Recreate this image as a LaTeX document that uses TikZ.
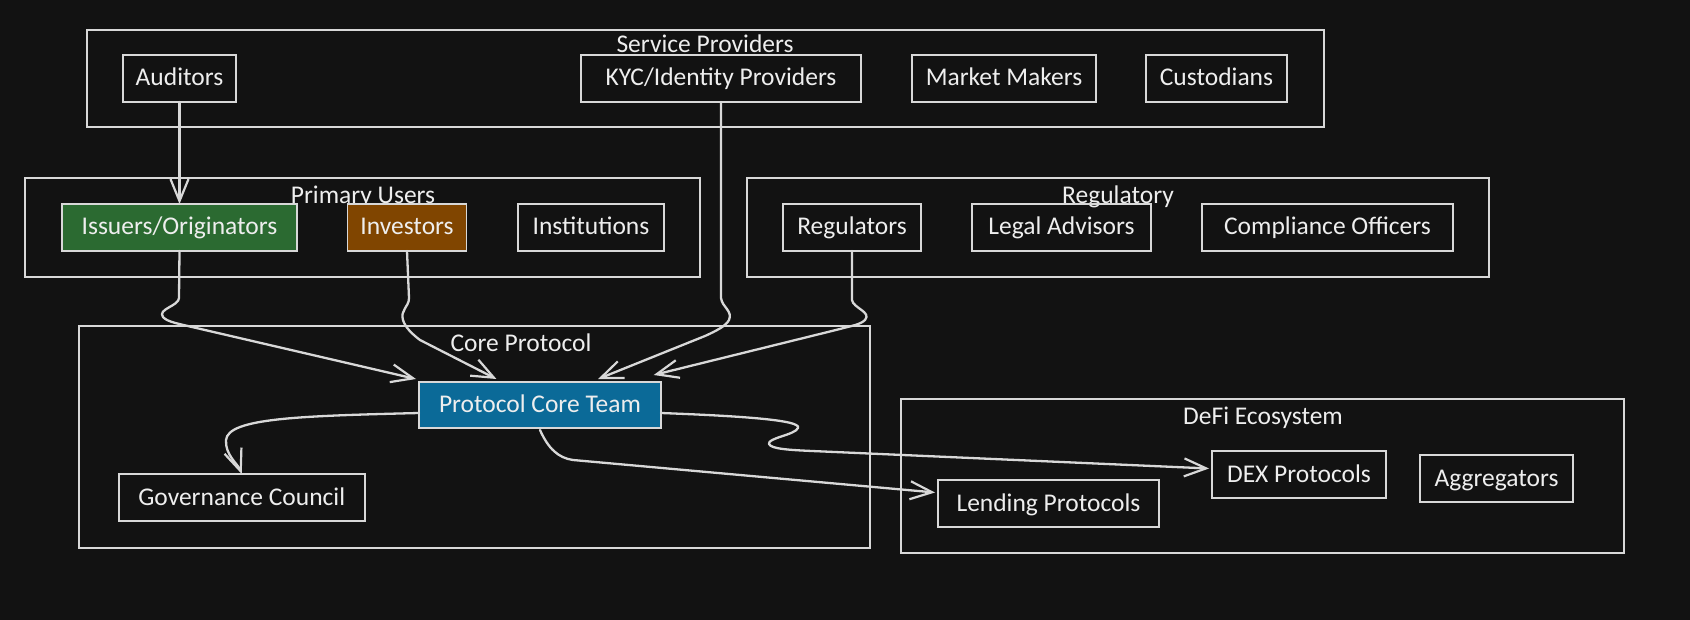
\documentclass[tikz,border=0pt]{standalone}
\usepackage{fontspec}
\setmainfont{Carlito}
\usetikzlibrary{arrows.meta,calc}
\definecolor{bg}{HTML}{121212}
\definecolor{ln}{HTML}{D8D8D8}
\definecolor{tx}{HTML}{EEEEEE}
\definecolor{grn}{HTML}{2B6A31}
\definecolor{brn}{HTML}{804500}
\definecolor{blu}{HTML}{0B6A98}
\begin{document}
\begin{tikzpicture}[x=1pt,y=-1pt,
  cluster/.style={draw=ln, line width=1.6pt, inner sep=0pt, outer sep=0pt},
  ctitle/.style={text=tx, font=\fontsize{25.5}{28}\selectfont, anchor=base, inner sep=0pt},
  box/.style={draw=ln, line width=1.6pt, text=tx, font=\fontsize{25.5}{28}\selectfont,
    inner sep=0pt, outer sep=0pt, minimum height=47pt, text height=20pt, text depth=5pt},
  conn/.style={draw=ln, line width=2.3pt, line cap=round, line join=round,
    -{Straight Barb[length=22pt,width=18pt,line width=2.2pt]}}]
\useasboundingbox (0,0) rectangle (1690,620);
\fill[bg] (0,0) rectangle (1690,620);

% clusters
\draw[cluster] (87,30) rectangle (1324,127);
\node[ctitle] (tsp) at (705,53) {Service Providers};
\draw[cluster] (25,178) rectangle (700,277);
\node[ctitle] (tpu) at (363,204) {Primary Users};
\draw[cluster] (747,178) rectangle (1489,277);
\node[ctitle] (treg) at (1118,204) {Regulatory};
\draw[cluster] (79,326) rectangle (870,548);
\node[ctitle] (tcp) at (521,352) {Core Protocol};
\draw[cluster] (901,399) rectangle (1624,553);
\node[ctitle] (tdf) at (1263,424) {DeFi Ecosystem};

% nodes
\node[box, minimum width=113pt] (aud) at (179.5,78.5) {Auditors};
\node[box, minimum width=280pt] (kyc) at (721,78.5) {KYC/Identity Providers};
\node[box, minimum width=184pt] (mm) at (1004,78.5) {Market Makers};
\node[box, minimum width=141pt] (cus) at (1216.5,78.5) {Custodians};

\node[box, fill=grn, minimum width=235pt] (iss) at (179.5,227.5) {Issuers/Originators};
\node[box, fill=brn, minimum width=119pt] (inv) at (407,227.5) {Investors};
\node[box, minimum width=146pt] (ins) at (591,227.5) {Institutions};

\node[box, minimum width=138pt] (reg) at (852,227.5) {Regulators};
\node[box, minimum width=179pt] (leg) at (1061.5,227.5) {Legal Advisors};
\node[box, minimum width=251pt] (com) at (1327.5,227.5) {Compliance Officers};

\node[box, fill=blu, minimum width=242pt, minimum height=46pt] (pct) at (540,405) {Protocol Core Team};
\node[box, minimum width=246pt] (gov) at (241.75,497.5) {Governance Council};

\node[box, minimum width=221pt] (lend) at (1048.5,503.5) {Lending Protocols};
\node[box, minimum width=174pt] (dex) at (1299,474.5) {DEX Protocols};
\node[box, minimum width=153pt] (agg) at (1496.5,478.5) {Aggregators};

% connectors
\draw[conn] (aud.south) -- (iss.north);

\draw[conn] (iss.south) -- (179,298)
  .. controls (179,306) and (157,309) .. (163,317)
  .. controls (167,322) and (180,324) .. (192,327)
  -- ($(pct.north west)+(-3,-3)$);

\draw[conn] (inv.south) -- (409,298)
  .. controls (409,307) and (400,310) .. (403,320)
  .. controls (405,327) and (412,334) .. (420,340)
  -- ($(pct.north west)!0.32!(pct.north east)+(0,-3)$);

\draw[conn] (kyc.south) -- (721,298)
  .. controls (722,307) and (733,311) .. (729,320)
  .. controls (726,326) and (716,331) .. (705,336)
  -- ($(pct.north west)!0.74!(pct.north east)+(0,-3)$);

\draw[conn] (reg.south) -- (852,300)
  .. controls (853,308) and (872,312) .. (865,320)
  .. controls (860,325) and (850,326) .. (840,329)
  -- ($(pct.north west)!0.97!(pct.north east)+(0,-7)$);

\draw[conn] ($(pct.west)+(0,8)$)
  .. controls (300,416) and (228,418) .. (226,440)
  .. controls (225,455) and (238,464) .. (gov.north);

\draw[conn] ($(pct.east)+(0,8)$)
  .. controls (740,416) and (802,420) .. (798,428)
  .. controls (795,435) and (767,438) .. (769,444)
  .. controls (771,449) and (790,450) .. (812,451)
  -- ($(dex.west)+(-3,-6)$);

\draw[conn] ($(pct.south)+(0,2)$)
  .. controls (548,448) and (558,458) .. (573,460)
  -- ($(lend.west)+(-3,-11)$);
\end{tikzpicture}
\end{document}
